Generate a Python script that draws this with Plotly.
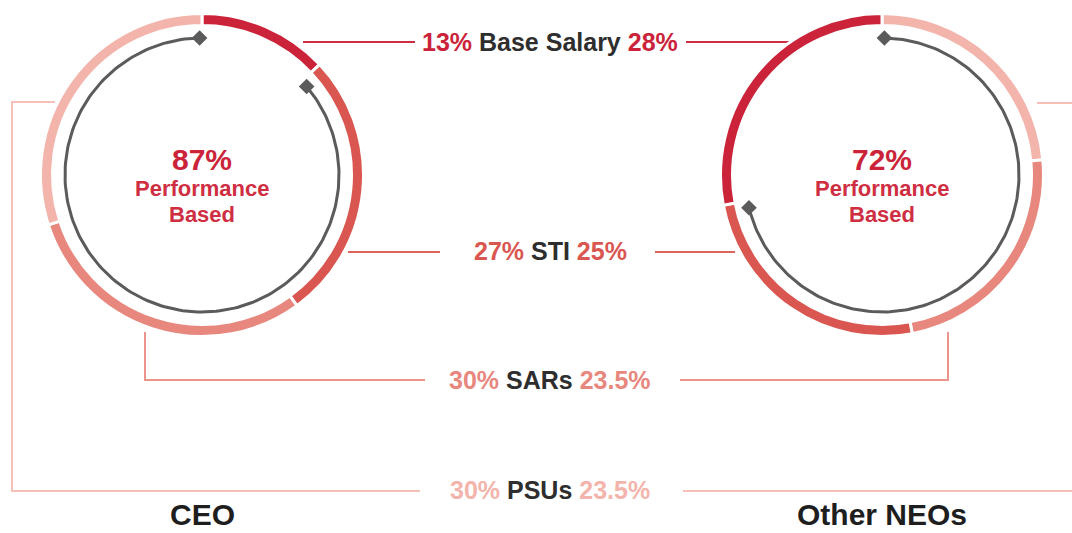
import numpy as np
import plotly.graph_objects as go

# pay mix, in percent
components = ['Base Salary', 'STI', 'SARs', 'PSUs']
ceo_mix = [13, 27, 30, 30]
neo_mix = [28, 25, 23.5, 23.5]
ceo_perf = 87
neo_perf = 72
groups = ['CEO', 'Other NEOs']

colors = ['#CB2339', '#DA5650', '#E8877D', '#F3B4AB']
line_colors = ['#CF2E42', '#DD635D', '#EB948B', '#F5C0B8']
grey = '#5B5B5B'

W, H = 1072, 533
GAP = 3
R_OUT, R_IN, R_ARC = 160, 151, 137
centers = [(202, 175), (882, 175)]

fig = go.Figure()


def ring(mix, cols, cx, cy):
    # white slice border eats half its width on each edge, so pad the radii
    ro = R_OUT + GAP / 2
    ri = R_IN - GAP / 2
    fig.add_trace(go.Pie(
        values=mix,
        sort=False,
        direction='clockwise',
        rotation=0,
        hole=ri / ro,
        marker=dict(colors=cols, line=dict(color='white', width=GAP)),
        textinfo='none',
        hoverinfo='skip',
        showlegend=False,
        domain=dict(x=[(cx - ro) / W, (cx + ro) / W],
                    y=[(H - cy - ro) / H, (H - cy + ro) / H]),
    ))


def perf_arc(start_deg, end_deg, cx, cy):
    t = np.radians(np.linspace(start_deg, end_deg, 200))
    xs = cx + R_ARC * np.sin(t)
    ys = cy - R_ARC * np.cos(t)
    fig.add_trace(go.Scatter(x=xs, y=ys, mode='lines',
                             line=dict(color=grey, width=3),
                             hoverinfo='skip', showlegend=False))
    fig.add_trace(go.Scatter(x=[xs[0], xs[-1]], y=[ys[0], ys[-1]], mode='markers',
                             marker=dict(symbol='diamond', size=12, color=grey),
                             hoverinfo='skip', showlegend=False))


# CEO ring runs clockwise from the top, NEO ring is mirrored
ring(ceo_mix, colors, *centers[0])
ring(neo_mix[::-1], colors[::-1], *centers[1])

perf_arc(360 * (100 - ceo_perf) / 100 + 3, 359, *centers[0])
perf_arc(1, 360 * neo_perf / 100 - 3, *centers[1])

# connector lines
paths = [
    ('M303,42 H415', line_colors[0]), ('M686,42 H790', line_colors[0]),
    ('M348,252 H440', line_colors[1]), ('M655,252 H735', line_colors[1]),
    ('M145,332 V380 H425', line_colors[2]), ('M680,380 H948 V332', line_colors[2]),
    ('M55,102 H12 V491 H420', line_colors[3]), ('M683,491 H1080', line_colors[3]),
    ('M1037,103 H1080', line_colors[3]),
]
for p, c in paths:
    fig.add_shape(type='path', path=p, xref='x', yref='y',
                  line=dict(color=c, width=2), layer='below')


def pct(v):
    return f'{v:g}%'


label_y = [42, 251, 380, 490]
for i, name in enumerate(components):
    txt = (f'<span style="color:{colors[i]}">{pct(ceo_mix[i])}</span> '
           f'<span style="color:#2E2E2E">{name}</span> '
           f'<span style="color:{colors[i]}">{pct(neo_mix[i])}</span>')
    fig.add_annotation(x=550, y=label_y[i], xref='x', yref='y', text=f'<b>{txt}</b>',
                       showarrow=False, font=dict(size=25, family='Liberation Sans'))

for (cx, cy), perf, name in zip(centers, [ceo_perf, neo_perf], groups):
    fig.add_annotation(x=cx, y=cy - 16, xref='x', yref='y', text=f'<b>{perf}%</b>',
                       showarrow=False, font=dict(size=30, color='#CB2339', family='Liberation Sans'))
    fig.add_annotation(x=cx, y=cy + 13, xref='x', yref='y', text='<b>Performance</b>',
                       showarrow=False, font=dict(size=22, color='#CF2E42', family='Liberation Sans'))
    fig.add_annotation(x=cx, y=cy + 39, xref='x', yref='y', text='<b>Based</b>',
                       showarrow=False, font=dict(size=22, color='#CF2E42', family='Liberation Sans'))
    fig.add_annotation(x=cx, y=514, xref='x', yref='y', text=f'<b>{name}</b>',
                       showarrow=False, font=dict(size=30, color='#1E1E1E', family='Liberation Sans'))

fig.update_layout(
    width=W, height=H,
    margin=dict(l=0, r=0, t=0, b=0),
    paper_bgcolor='white', plot_bgcolor='white',
    xaxis=dict(range=[0, W], visible=False, fixedrange=True),
    yaxis=dict(range=[H, 0], visible=False, fixedrange=True),
)

fig.write_html('out.html', config={'displayModeBar': False},
               post_script="document.body.style.margin='0';")
